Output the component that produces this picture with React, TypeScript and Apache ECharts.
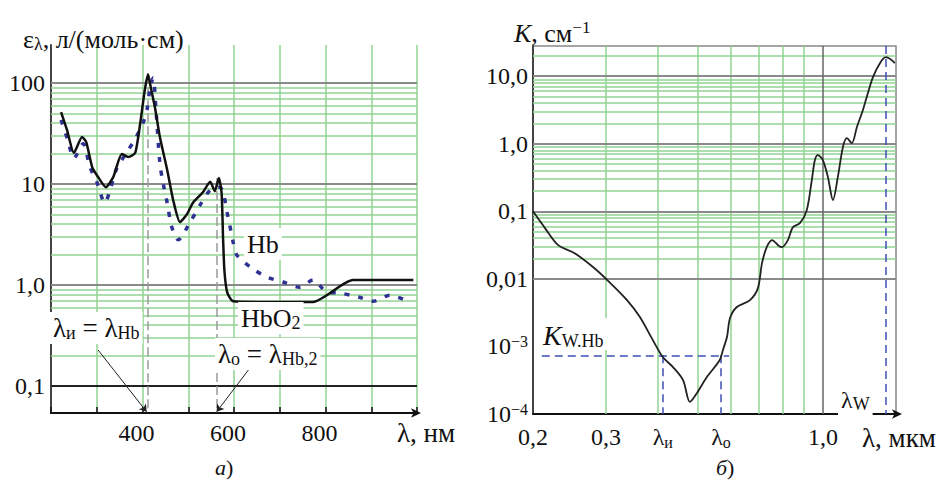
import React, { useEffect, useRef } from 'react';
import * as echarts from 'echarts';

// ---- Panel a: molar extinction of Hb and HbO2 ----
const hbWavelength = [222, 237, 250, 270, 285, 300, 318, 329, 344, 366, 384, 401, 410, 416, 423, 430, 438, 445, 454, 464, 478, 504, 526, 548, 569, 587, 598, 606, 639, 672, 707, 744, 773, 803, 832, 872, 904, 941, 974];
const hbValues = [43, 27, 18, 25, 14.7, 10.5, 6.5, 8.7, 14.4, 20.7, 28, 40, 55, 85, 112, 50, 16, 10.2, 6.5, 3.75, 2.8, 4.2, 6.2, 8.7, 9.3, 4.7, 2.67, 1.98, 1.47, 1.2, 1.07, 0.95, 1.12, 0.85, 0.83, 0.76, 0.69, 0.79, 0.71];
const hbo2Wavelength = [222, 235, 250, 268, 277, 290, 300, 320, 336, 355, 369, 384, 395, 405, 412, 418, 427, 438, 454, 467, 482, 497, 510, 532, 548, 558, 567, 573, 576, 579, 585, 598, 650, 773, 860, 992];
const hbo2Values = [51.6, 34.3, 20.3, 29.2, 26, 14.7, 12.3, 9.3, 11.7, 19.8, 18.5, 20.3, 40, 85, 122, 91, 57.8, 29.2, 13.8, 6.95, 4.2, 5.0, 6.5, 8.3, 10.5, 8.5, 11.5, 8.0, 3.0, 1.4, 0.85, 0.69, 0.68, 0.68, 1.12, 1.12];
const leftXLabels = [400, 600, 800];
const leftDecades = [0.1, 1, 10, 100];
const leftDecadeText = ['0,1', '1,0', '10', '100'];
const leftMinorDecades = [0.1, 1, 10];
const soretPeak = [412, 122];
const qPeak = [563, 11.5];

// ---- Panel b: absorption coefficient K ----
const kWavelength = [0.2, 0.214, 0.23, 0.252, 0.279, 0.3, 0.337, 0.362, 0.389, 0.411, 0.435, 0.46, 0.478, 0.497, 0.525, 0.564, 0.574, 0.587, 0.597, 0.62, 0.667, 0.697, 0.713, 0.732, 0.754, 0.782, 0.796, 0.823, 0.846, 0.88, 0.914, 0.94, 0.956, 0.972, 1.0, 1.028, 1.057, 1.086, 1.117, 1.142, 1.174, 1.207, 1.248, 1.283, 1.32, 1.372, 1.418, 1.466, 1.49];
const kValues = [0.1, 0.056, 0.0316, 0.024, 0.015, 0.01, 0.00485, 0.00272, 0.00124, 0.000697, 0.000495, 0.000318, 0.000151, 0.000205, 0.000352, 0.00063, 0.000885, 0.00138, 0.00263, 0.00383, 0.00485, 0.0073, 0.0171, 0.0295, 0.0375, 0.031, 0.0295, 0.0375, 0.0583, 0.0668, 0.104, 0.29, 0.57, 0.68, 0.57, 0.32, 0.147, 0.32, 0.89, 1.21, 1.02, 1.76, 3.14, 5.6, 9.7, 15.6, 19.1, 17.3, 15.6];
const rightDecades = [0.0001, 0.001, 0.01, 0.1, 1, 10];
const rightDecadeText = ['10{sup|−4}', '10{sup|−3}', '0,01', '0,1', '1,0', '10,0'];
const rightMinorDecades = [0.0001, 0.001, 0.01, 0.1, 1, 10];
const rightXGrid = [0.3, 0.4, 0.5, 0.6, 0.7, 0.8, 0.9];
const rightXLabelValues = [0.2, 0.3, 0.411, 0.568, 1.0];
const rightXLabelText = ['0,2', '0,3', 'λ{s|и}', 'λ{s|о}', '1,0'];
const lambdaI = 0.411;
const lambdaO = 0.568;
const lambdaW = 1.418;
const kWHb = 0.00074;
const minorSteps = [2, 3, 4, 5, 6, 7, 8, 9];

const FONT = 'Liberation Serif, Times New Roman, Times, serif';
const GREEN = '#92d392';
const GRAY = '#8a8a8a';

const LEFT_Y_MIN = 0.054;
const LEFT_Y_MAX = 238;
const RIGHT_Y_MIN = 0.0001;
const RIGHT_Y_MAX = 28;

const isDecade = (v: number) => Math.abs(Math.log10(v) - Math.round(Math.log10(v))) < 1e-6;
const decadeLabel = (v: number, decs: number[], texts: string[]) => {
  if (!isDecade(v)) return '';
  const i = decs.findIndex((d) => Math.abs(Math.log10(d) - Math.log10(v)) < 1e-6);
  return i >= 0 ? texts[i] : '';
};

const hLine = (v: number, color: string, width: number) => ({ yAxis: v, lineStyle: { color, width, type: 'solid' } });
const vLine = (v: number, color: string, width: number) => ({ xAxis: v, lineStyle: { color, width, type: 'solid' } });

const baseMark = {
  silent: true,
  symbol: ['none', 'none'],
  label: { show: false },
  emphasis: { disabled: true },
  animation: false,
};

const subRich = { fontSize: 16, fontFamily: FONT, lineHeight: 8, verticalAlign: 'bottom', fill: '#111' };
const bigSubRich = { fontSize: 18, fontFamily: FONT, lineHeight: 8, verticalAlign: 'bottom', fill: '#111' };
const supRich = { fontSize: 17, fontFamily: FONT, lineHeight: 12, verticalAlign: 'top', fill: '#111' };

export default function App() {
  const ref = useRef<HTMLDivElement>(null);
  useEffect(() => {
    document.body.style.margin = '0';
    if (!ref.current) return;
    const chart = echarts.init(ref.current, undefined, { renderer: 'svg' });

    const leftMinor = leftMinorDecades.flatMap((d) => minorSteps.map((m) => d * m));
    const rightMinor = rightMinorDecades.flatMap((d) => minorSteps.map((m) => d * m)).filter((v) => v < RIGHT_Y_MAX);

    const option: any = {
      animation: false,
      textStyle: { fontFamily: FONT },
      grid: [
        { left: 51, top: 45, width: 366, height: 368, show: false },
        { left: 533, top: 46, width: 363, height: 368, show: true, borderColor: '#888', borderWidth: 1.5, backgroundColor: 'transparent' },
      ],
      xAxis: [
        {
          type: 'value', gridIndex: 0, min: 200, max: 1000, interval: 100,
          axisLine: { onZero: false, lineStyle: { color: '#111', width: 2 }, symbol: ['none', 'arrow'], symbolSize: [7, 10], symbolOffset: [0, 4] },
          axisTick: { show: true, inside: true, length: 6, lineStyle: { color: '#111', width: 1.5 } },
          splitLine: { show: true, lineStyle: { color: GREEN, width: 1.5 } },
          axisLabel: {
            formatter: (v: number) => (leftXLabels.includes(v) ? String(v) : ''),
            fontFamily: FONT, fontSize: 24, color: '#111', margin: 8, padding: [0, 12, 0, 0],
          },
        },
        {
          type: 'log', gridIndex: 1, min: 0.2, max: 1.5,
          axisLine: { onZero: false, lineStyle: { color: '#111', width: 2 }, symbol: ['none', 'arrow'], symbolSize: [7, 10], symbolOffset: [0, 6] },
          axisTick: { show: false },
          splitLine: { show: false },
          axisLabel: { show: false },
        },
      ],
      yAxis: [
        {
          type: 'log', gridIndex: 0, min: LEFT_Y_MIN, max: LEFT_Y_MAX,
          axisLine: { show: true, onZero: false, lineStyle: { color: '#444', width: 2 } },
          axisTick: { show: false },
          splitLine: { show: false },
          axisLabel: {
            formatter: (v: number) => decadeLabel(v, leftDecades, leftDecadeText),
            fontFamily: FONT, fontSize: 24, color: '#111', margin: 6,
          },
        },
        {
          type: 'log', gridIndex: 1, min: RIGHT_Y_MIN, max: RIGHT_Y_MAX,
          axisLine: { show: true, onZero: false, lineStyle: { color: '#444', width: 2 } },
          axisTick: { show: false },
          splitLine: { show: false },
          axisLabel: {
            formatter: (v: number) => decadeLabel(v, rightDecades, rightDecadeText),
            fontFamily: FONT, fontSize: 24, color: '#111', margin: 5, lineHeight: 26,
            rich: { sup: { fontSize: 16, fontFamily: FONT, lineHeight: 12, verticalAlign: 'top', color: '#111' } },
          },
        },
      ],
      series: [
        {
          type: 'line', xAxisIndex: 0, yAxisIndex: 0, data: [], z: 1,
          markLine: {
            ...baseMark,
            data: [
              ...leftMinor.map((v) => hLine(v, GREEN, 1.5)),
              ...leftDecades.map((v) => hLine(v, v === 0.1 ? '#222' : GRAY, 2)),
            ],
          },
        },
        {
          type: 'line', xAxisIndex: 0, yAxisIndex: 0, data: [], z: 3,
          markLine: {
            ...baseMark,
            data: [
              [{ coord: soretPeak, lineStyle: { color: '#9a9a9a', width: 1.5, type: [9, 4] } }, { coord: [soretPeak[0], 0.055] }],
              [{ coord: qPeak, lineStyle: { color: '#9a9a9a', width: 1.5, type: [9, 4] } }, { coord: [qPeak[0], 0.055] }],
              [{ coord: [303, 0.227], symbol: 'none', lineStyle: { color: '#222', width: 1, type: 'solid' } }, { coord: [409, 0.0555], symbol: 'arrow', symbolSize: 7 }],
              [{ coord: [635, 0.151], symbol: 'none', lineStyle: { color: '#222', width: 1, type: 'solid' } }, { coord: [562, 0.0555], symbol: 'arrow', symbolSize: 7 }],
            ],
          },
        },
        {
          name: 'Hb', type: 'line', xAxisIndex: 0, yAxisIndex: 0, z: 5,
          data: hbWavelength.map((w, i) => [w, hbValues[i]]),
          showSymbol: false, smooth: 0.3,
          lineStyle: { color: '#2e3192', width: 3.5, type: [5, 9], cap: 'butt' },
        },
        {
          name: 'HbO2', type: 'line', xAxisIndex: 0, yAxisIndex: 0, z: 6,
          data: hbo2Wavelength.map((w, i) => [w, hbo2Values[i]]),
          showSymbol: false, smooth: 0.2,
          lineStyle: { color: '#111', width: 2.5 },
        },
        {
          type: 'line', xAxisIndex: 1, yAxisIndex: 1, data: [], z: 1,
          markLine: {
            ...baseMark,
            data: [
              ...rightMinor.map((v) => hLine(v, GREEN, 1.5)),
              ...rightXGrid.map((v) => vLine(v, GREEN, 1.5)),
              ...rightDecades.slice(1).map((v) => hLine(v, GRAY, 2)),
              vLine(1.0, '#666', 1.5),
            ],
          },
        },
        {
          type: 'line', xAxisIndex: 1, yAxisIndex: 1, data: [], z: 3,
          markLine: {
            ...baseMark,
            lineStyle: { color: '#3f4fb5', width: 1.5, type: [8, 5] },
            data: [
              [{ coord: [lambdaW, RIGHT_Y_MAX] }, { coord: [lambdaW, RIGHT_Y_MIN] }],
              [{ coord: [0.21, kWHb] }, { coord: [0.594, kWHb] }],
              [{ coord: [lambdaI, kWHb] }, { coord: [lambdaI, RIGHT_Y_MIN] }],
              [{ coord: [lambdaO, kWHb] }, { coord: [lambdaO, RIGHT_Y_MIN] }],
            ],
          },
        },
        {
          name: 'K', type: 'line', xAxisIndex: 1, yAxisIndex: 1, z: 5,
          data: kWavelength.map((w, i) => [w, kValues[i]]),
          showSymbol: false, smooth: 0.3,
          lineStyle: { color: '#222', width: 1.8 },
        },
      ],
    };
    chart.setOption(option);

    const bottomY = chart.convertToPixel({ yAxisIndex: 1 }, RIGHT_Y_MIN) as number;
    const rightLabels = rightXLabelValues.map((v, i) => ({
      type: 'text',
      x: chart.convertToPixel({ xAxisIndex: 1 }, v) as number,
      y: bottomY + 10,
      z: 10,
      style: {
        text: rightXLabelText[i], fill: '#111', font: `24px ${FONT}`, align: 'center', verticalAlign: 'top',
        lineHeight: 26, rich: { s: subRich },
      },
    }));

    const txt = (x: number, y: number, text: string, extra: any = {}) => ({
      type: 'text', x, y, z: 10,
      style: {
        text, fill: '#111', font: `24px ${FONT}`, align: 'left', verticalAlign: 'top', lineHeight: 26,
        rich: { s: subRich, sup: supRich, i: { fontStyle: 'italic', fontSize: 26, fontFamily: FONT, lineHeight: 28, fill: '#111' } },
        ...extra,
      },
    });
    const boxed = { backgroundColor: '#fff', padding: [2, 3, 2, 3] };
    const big = { font: `27px ${FONT}`, lineHeight: 28 };
    const bigRich = { s: bigSubRich };
    const italicCap = { i: { fontStyle: 'italic', fontSize: 22, fontFamily: FONT, lineHeight: 24, fill: '#111' } };

    chart.setOption({
      graphic: [
        txt(23, 25, 'ε{s|λ}, л/(моль·см)', { font: `26px ${FONT}`, lineHeight: 28, rich: { s: bigSubRich } }),
        txt(514, 19, '{i|K}, см{sup|−1}', { font: `26px ${FONT}`, lineHeight: 28 }),
        txt(397, 419, 'λ, нм', big),
        txt(862, 424, 'λ, мкм', big),
        txt(215, 455, '{i|а})', { font: `22px ${FONT}`, lineHeight: 24, rich: italicCap }),
        txt(716, 455, '{i|б})', { font: `22px ${FONT}`, lineHeight: 24, rich: italicCap }),
        txt(244, 228, 'Hb', { font: `26px ${FONT}`, lineHeight: 28, ...boxed }),
        txt(238, 302, 'HbO{s|2}', { font: `26px ${FONT}`, lineHeight: 28, ...boxed, rich: bigRich }),
        txt(215, 338, 'λ{s|о} = λ{s|Hb,2}', { ...big, ...boxed, rich: bigRich }),
        txt(50, 312, 'λ{s|и} = λ{s|Hb}', { ...big, ...boxed, rich: bigRich }),
        txt(539, 318, '{k|K}{s|W.Hb}', {
          ...boxed, padding: [2, 4, 0, 4],
          rich: { k: { fontStyle: 'italic', fontSize: 28, fontFamily: FONT, lineHeight: 30, fill: '#111' }, s: bigSubRich },
        }),
        txt(838, 385, 'λ{s|W}', { ...boxed, rich: bigRich }),
        ...rightLabels,
      ],
    });

    return () => chart.dispose();
  }, []);
  return <div ref={ref} style={{ width: 936, height: 482 }} />;
}
